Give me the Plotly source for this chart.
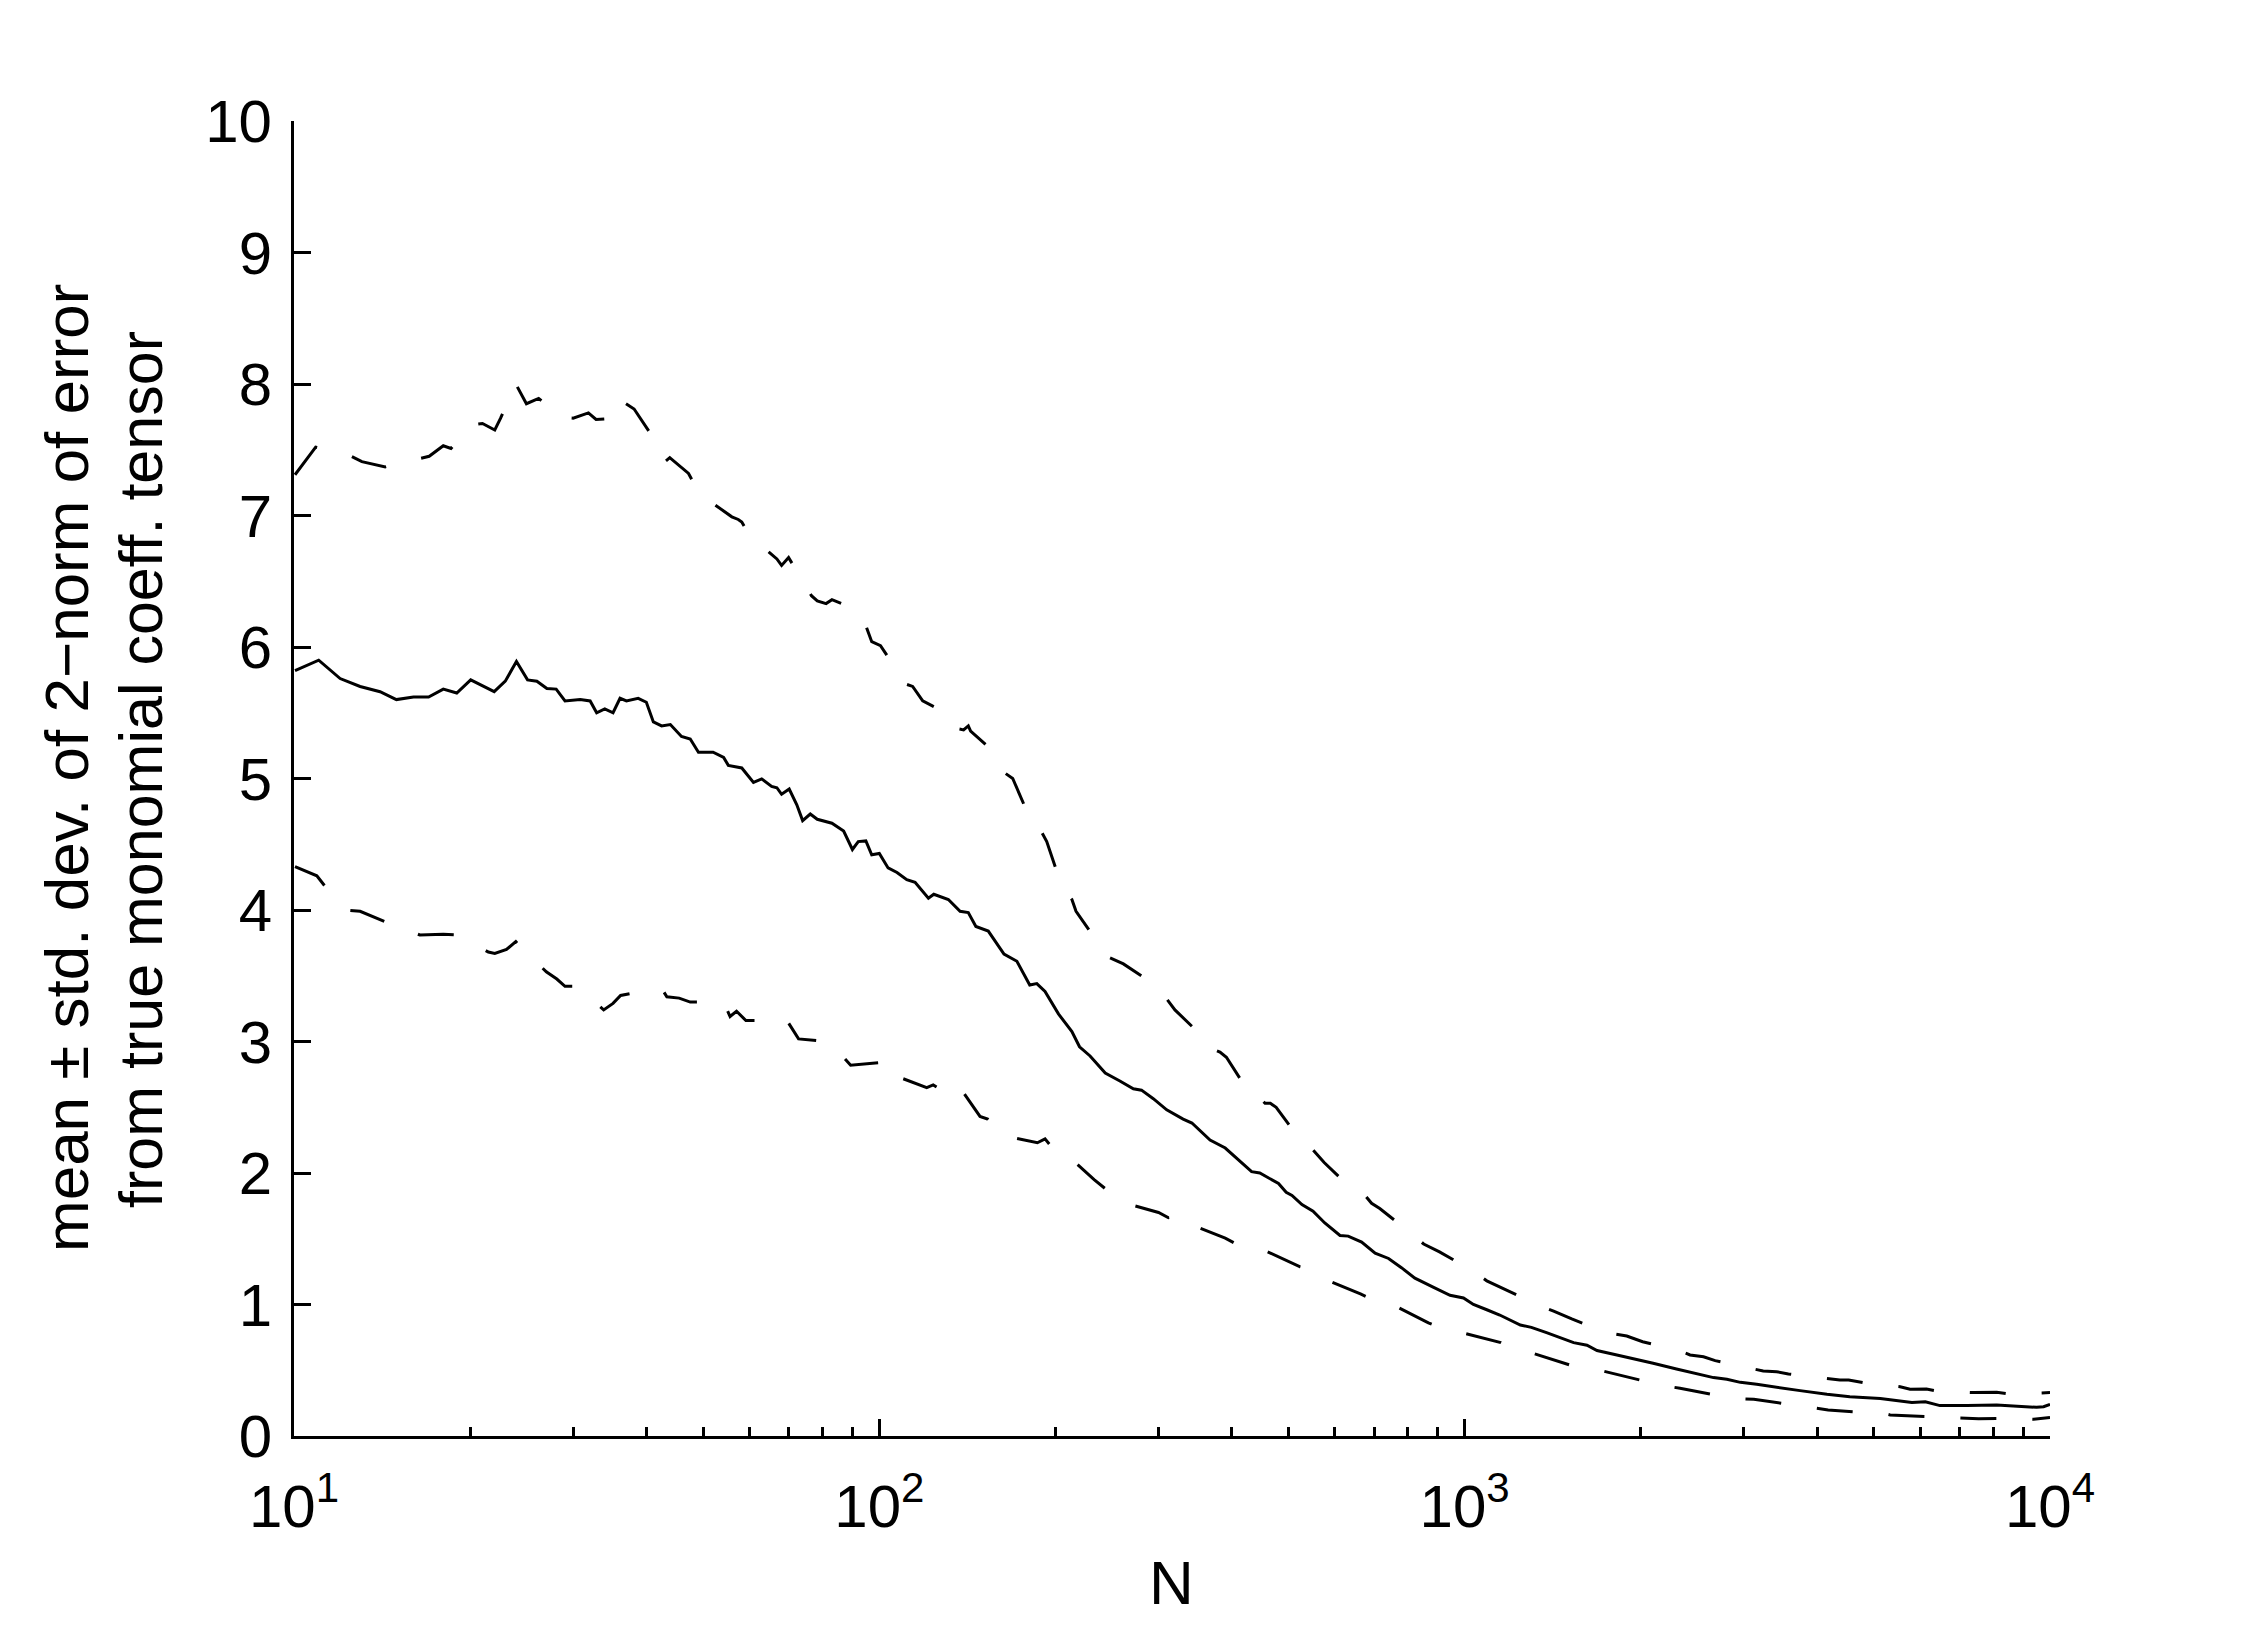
import plotly.graph_objects as go

# ---------------- data ----------------
# upper dashed curve: mean + std
N_upper = [10.04, 10.89, 12.47, 13.06, 14.32, 16.37, 17.02, 17.99, 18.54, 20.14,
           20.99, 22.03, 22.54, 23.93, 24.95, 26.18, 28.84, 29.99, 31.84, 32.81,
           35.16, 36.06, 38.11, 40.83, 43.05, 43.85, 47.21, 49.09, 51.29, 55.98,
           57.41, 58.21, 59.98, 66.83, 68.08, 69.98, 72.11, 76.56, 78.34, 81.10,
           82.99, 86.30, 91.41, 95.06, 97.05, 100.46, 109.1, 110.7, 114.0, 118.6,
           131.2, 135.5, 139.3, 141.9, 143.2, 156.3, 164.1, 169.0, 179.5, 182.0,
           185.8, 193.2, 203.2, 207.5, 213.3, 216.8, 235.5, 243.8, 261.2, 291.7,
           304.1, 319.9, 353.2, 367.3, 381.9, 391.7, 425.6, 430.5, 444.6, 456.0,
           465.6, 476.4, 520.0, 533.3, 549.5, 575.4, 641.2, 666.8, 693.4, 716.1,
           805.4, 851.1, 905.7, 1028, 1091, 1164, 1337, 1419, 1524, 1750,
           1892, 2014, 2328, 2427, 2559, 2679, 3090, 3236, 3412, 3573,
           4140, 4375, 4529, 4786, 5546, 5768, 6152, 6397, 7413, 8110,
           8570, 9931, 10000]
upper = [7.31, 7.52, 7.455, 7.41, 7.37, 7.43, 7.45, 7.53, 7.51, 7.69,
         7.70, 7.65, 7.74, 8.00, 7.85, 7.89, 7.745, 7.74, 7.78, 7.73,
         7.74, 7.88, 7.81, 7.61, 7.41, 7.44, 7.32, 7.18, 7.11, 6.99,
         6.97, 6.95, 6.85, 6.67, 6.62, 6.68, 6.58, 6.39, 6.35, 6.33,
         6.36, 6.33, 6.19, 6.15, 6.04, 6.01, 5.77, 5.72, 5.70, 5.59,
         5.49, 5.38, 5.37, 5.40, 5.36, 5.21, 5.04, 5.00, 4.73, 4.68,
         4.66, 4.52, 4.23, 4.145, 4.08, 3.99, 3.76, 3.65, 3.59, 3.45,
         3.37, 3.24, 3.056, 2.95, 2.92, 2.88, 2.63, 2.59, 2.58, 2.53,
         2.53, 2.50, 2.27, 2.21, 2.18, 2.08, 1.88, 1.86, 1.77, 1.73,
         1.55, 1.46, 1.40, 1.26, 1.18, 1.12, 0.995, 0.95, 0.89, 0.786,
         0.76, 0.717, 0.649, 0.616, 0.603, 0.573, 0.515, 0.494, 0.489, 0.472,
         0.439, 0.426, 0.426, 0.406, 0.375, 0.355, 0.357, 0.342, 0.330, 0.332,
         0.317, 0.33, 0.33]

# solid curve: mean
N_mean = [10.04, 11.02, 11.99, 12.97, 14.03, 14.96, 16.00, 16.98, 17.99, 18.97,
          20.04, 21.98, 22.96, 23.99, 25.06, 26.00, 27.04, 28.05, 29.04, 30.83,
          32.06, 32.89, 33.96, 35.08, 36.06, 36.98, 38.73, 39.99, 41.11, 42.46,
          43.95, 45.92, 47.53, 49.09, 52.00, 54.20, 55.21, 58.21, 60.95, 62.95,
          65.46, 66.83, 68.08, 70.15, 72.28, 73.96, 76.21, 78.34, 82.99, 86.90,
          89.95, 92.04, 94.84, 97.05, 100.0, 103.5, 107.2, 111.4, 115.1, 121.3,
          123.9, 131.2, 137.4, 141.9, 146.2, 153.5, 163.3, 171.8, 180.7, 185.8,
          191.9, 202.3, 213.3, 219.8, 229.1, 243.2, 257.6, 271.6, 280.5, 293.8,
          309.7, 330.4, 342.0, 355.6, 367.3, 389.9, 410.2, 432.5, 446.7, 464.5,
          480.8, 495.5, 507.0, 527.2, 550.8, 576.8, 612.4, 632.4, 666.8, 703.1,
          741.3, 779.8, 822.2, 885.1, 944.1, 995.4, 1035, 1091, 1148, 1245,
          1300, 1380, 1535, 1618, 1683, 1820, 1995, 2099, 2301, 2460,
          2661, 2805, 2958, 3155, 3459, 3741, 4159, 4550, 5129, 5546,
          5808, 6124, 6486, 7211, 8110, 8650, 9484, 9750, 10000]
mean = [5.82, 5.90, 5.76, 5.70, 5.66, 5.60, 5.62, 5.62, 5.68, 5.65,
        5.75, 5.66, 5.74, 5.89, 5.75, 5.74, 5.685, 5.68, 5.59, 5.60,
        5.59, 5.50, 5.53, 5.50, 5.61, 5.59, 5.61, 5.58, 5.43, 5.40,
        5.41, 5.32, 5.30, 5.20, 5.20, 5.16, 5.10, 5.08, 4.97, 4.997,
        4.94, 4.93, 4.88, 4.92, 4.80, 4.68, 4.73, 4.69, 4.66, 4.60,
        4.46, 4.52, 4.525, 4.42, 4.43, 4.32, 4.285, 4.23, 4.21, 4.09,
        4.12, 4.08, 3.99, 3.98, 3.875, 3.84, 3.665, 3.61, 3.43, 3.44,
        3.38, 3.21, 3.075, 2.96, 2.89, 2.76, 2.70, 2.64, 2.63, 2.565,
        2.48, 2.41, 2.38, 2.305, 2.25, 2.19, 2.10, 2.01, 2.00, 1.955,
        1.92, 1.854, 1.83, 1.76, 1.71, 1.62, 1.525, 1.52, 1.475, 1.39,
        1.35, 1.28, 1.20, 1.13, 1.07, 1.05, 1.00, 0.96, 0.92, 0.844,
        0.826, 0.786, 0.71, 0.69, 0.65, 0.616, 0.578, 0.553, 0.510, 0.477,
        0.444, 0.431, 0.408, 0.393, 0.370, 0.345, 0.317, 0.299, 0.286, 0.269,
        0.254, 0.261, 0.231, 0.231, 0.236, 0.228, 0.218, 0.223, 0.241]

# lower dashed curve: mean - std
N_lower = [10.04, 10.94, 11.30, 12.47, 12.97, 14.32, 16.41, 17.99, 19.01, 21.48,
           22.03, 23.07, 23.93, 24.27, 26.98, 28.12, 29.04, 30.48, 33.81, 35.08,
           36.14, 38.02, 42.66, 43.35, 45.50, 47.53, 53.95, 54.83, 55.59, 57.02,
           59.16, 66.83, 68.08, 69.98, 72.78, 81.10, 84.53, 86.90, 89.33, 98.40,
           100.0, 103.0, 105.7, 107.9, 120.5, 123.6, 127.9, 132.1, 135.8, 148.6,
           153.1, 158.9, 164.8, 186.2, 191.9, 196.8, 202.3, 208.9, 232.8, 244.9,
           261.2, 299.9, 311.9, 326.6, 330.4, 339.6, 389.9, 409.3, 429.5, 445.7,
           511.7, 523.6, 548.3, 579.4, 663.7, 703.1, 760.3, 867.0, 926.8, 995.4,
           1153, 1245, 1315, 1524, 1618, 1750, 2032, 2158, 2333, 2710,
           2877, 3119, 3631, 3890, 4178, 4864, 5188, 5333, 5623, 6531,
           7015, 7551, 8770, 9376, 10000]
lower = [4.33, 4.26, 4.18, 3.997, 3.99, 3.91, 3.81, 3.815, 3.81, 3.68,
         3.67, 3.70, 3.76, 3.73, 3.53, 3.475, 3.42, 3.42, 3.24, 3.29,
         3.35, 3.37, 3.39, 3.34, 3.33, 3.30, 3.30, 3.25, 3.19, 3.23,
         3.16, 3.16, 3.13, 3.14, 3.02, 3.00, 2.91, 2.88, 2.82, 2.84,
         2.84, 2.75, 2.70, 2.73, 2.65, 2.67, 2.63, 2.67, 2.68, 2.43,
         2.41, 2.32, 2.28, 2.23, 2.26, 2.20, 2.19, 2.14, 1.95, 1.87,
         1.775, 1.70, 1.66, 1.67, 1.627, 1.61, 1.505, 1.455, 1.455, 1.43,
         1.31, 1.286, 1.263, 1.19, 1.08, 1.03, 0.99, 0.86, 0.81, 0.783,
         0.71, 0.637, 0.626, 0.535, 0.524, 0.486, 0.418, 0.388, 0.363, 0.304,
         0.286, 0.279, 0.236, 0.216, 0.198, 0.178, 0.172, 0.160, 0.155, 0.142,
         0.134, 0.132, 0.134, 0.127, 0.14]

x_tickvals = [10, 100, 1000, 10000]
x_ticktext = ["10<sup>1</sup>", "10<sup>2</sup>", "10<sup>3</sup>", "10<sup>4</sup>"]
y_tickvals = [0, 1, 2, 3, 4, 5, 6, 7, 8, 9, 10]
ylabel_line1 = "mean \u00b1 std. dev. of 2\u2212norm of error"
ylabel_line2 = "from true monomial coeff. tensor"
xlabel = "N"

minor_vals = [d * 10 ** k for k in (1, 2, 3) for d in range(2, 10)]

FONT = "Liberation Sans, Arial, Helvetica, sans-serif"
DASH = "36px,36px"

fig = go.Figure()
fig.add_trace(go.Scatter(x=N_upper, y=upper, mode="lines",
                         line=dict(color="black", width=3, dash=DASH),
                         showlegend=False, hoverinfo="skip"))
fig.add_trace(go.Scatter(x=N_mean, y=mean, mode="lines",
                         line=dict(color="black", width=3),
                         showlegend=False, hoverinfo="skip"))
fig.add_trace(go.Scatter(x=N_lower, y=lower, mode="lines",
                         line=dict(color="black", width=3, dash=DASH),
                         showlegend=False, hoverinfo="skip"))

fig.update_layout(
    width=2262, height=1625,
    margin=dict(l=294, r=212, t=121, b=189),
    paper_bgcolor="white", plot_bgcolor="white",
    font=dict(family=FONT, size=60, color="black"),
    showlegend=False,
)
fig.update_xaxes(
    type="log", range=[1, 4],
    showline=True, linecolor="black", linewidth=3, mirror=False,
    showgrid=False, zeroline=False,
    ticks="inside", ticklen=17, tickwidth=2.5, tickcolor="black",
    tickmode="array", tickvals=x_tickvals, ticktext=x_ticktext,
    tickfont=dict(family=FONT, size=60, color="black"),
    ticklabelstandoff=16,
    minor=dict(ticks="inside", ticklen=9, tickwidth=2.5, tickcolor="black",
               tickmode="array", tickvals=minor_vals, showgrid=False),
)
fig.update_yaxes(
    range=[0, 10],
    showline=True, linecolor="black", linewidth=3, mirror=False,
    showgrid=False, zeroline=False,
    ticks="inside", ticklen=17, tickwidth=2.5, tickcolor="black",
    tickmode="array", tickvals=y_tickvals,
    tickfont=dict(family=FONT, size=60, color="black"),
    ticklabelstandoff=7,
)

# axis titles as annotations (pixel-placed)
plot_w = 2262 - 294 - 212
plot_h = 1625 - 121 - 189
def px_to_paper_x(px):
    return (px - 294) / plot_w
def px_to_paper_y(py):
    return (1625 - 189 - py) / plot_h

fig.add_annotation(text=xlabel, xref="paper", yref="paper",
                   x=px_to_paper_x(1171), y=px_to_paper_y(1582),
                   xanchor="center", yanchor="middle", showarrow=False,
                   font=dict(family=FONT, size=62, color="black"))
fig.add_annotation(text=ylabel_line1, xref="paper", yref="paper",
                   x=px_to_paper_x(66), y=px_to_paper_y(768), textangle=-90,
                   xanchor="center", yanchor="middle", showarrow=False,
                   font=dict(family=FONT, size=62, color="black"))
fig.add_annotation(text=ylabel_line2, xref="paper", yref="paper",
                   x=px_to_paper_x(141), y=px_to_paper_y(770), textangle=-90,
                   xanchor="center", yanchor="middle", showarrow=False,
                   font=dict(family=FONT, size=61, color="black"))

fig.write_html("out.html")
